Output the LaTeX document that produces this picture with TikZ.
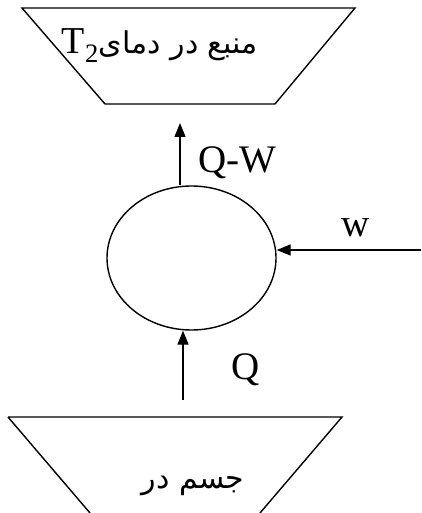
\documentclass[tikz,border=0pt]{standalone}
\usepackage{fontspec}
\setmainfont{Liberation Serif}
\newfontfamily\arabicfont[Script=Arabic]{DejaVu Sans}
\TeXXeTstate=1
\usepackage{tikz}
\usetikzlibrary{arrows.meta,shapes.geometric}

\begin{document}
\begin{tikzpicture}[x=1pt,y=-1pt,line width=1.4pt,
  flow/.style={-{Triangle[length=14pt,width=11pt]}},
  lbl/.style={font=\fontsize{39}{41}\selectfont}]
\useasboundingbox (0,0) rectangle (421,513);
% reservoirs
\draw (22,8) -- (355,8) -- (275,104) -- (105,104) -- cycle;
\draw (8,417) -- (342,417) -- (260,513) (90,513) -- (8,417);
\node[font=\fontsize{30}{32}\selectfont] (hot) at (160,46) {\arabicfont\beginR منبع در دمای\beginL\rmfamily\fontsize{38}{40}\selectfont T\textsubscript{2}\endL\endR};
\node[font=\fontsize{30}{32}\selectfont] (cold) at (193,486) {\arabicfont\beginR جسم در\endR};
% engine
\node[draw,ellipse,minimum width=169pt,minimum height=144pt,inner sep=0pt] (eng) at (191.5,258) {};
\coordinate (out) at (180,123);
\coordinate (in) at (183,400);
\coordinate (wsrc) at (421,250);
\draw[flow] (eng.north -| out) -- (out);
\draw[flow] (in) -- (in |- eng.south);
\draw[flow] (wsrc) -- (wsrc -| eng.east);
\node[lbl] (qw) at (237,163) {Q-W};
\node[lbl] (q) at (246,370) {Q};
\node[lbl] (w) at (356,228) {w};
\end{tikzpicture}
\end{document}
